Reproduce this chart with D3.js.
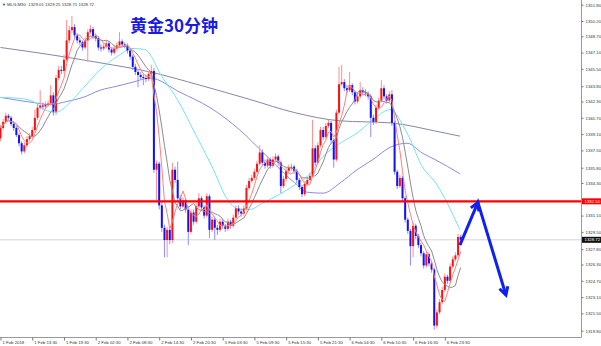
<!DOCTYPE html>
<html><head><meta charset="utf-8">
<script src="https://cdn.jsdelivr.net/npm/d3@7/dist/d3.min.js"></script>
<style>html,body{margin:0;padding:0;background:#fff;overflow:hidden}</style>
</head><body>
<svg id="c" width="601" height="346"></svg>
<script>
// ---------- data (30-minute gold candles) ----------
const firstOpen = 1338.7;
const closes = [1339.7,1340.3,1340.9,1340.7,1340.1,1339.7,1339.0,1338.2,1337.4,1338.0,
1338.6,1338.9,1339.5,1340.7,1341.7,1341.9,1341.8,1342.0,1342.1,1342.9,
1341.3,1344.6,1345.4,1345.3,1346.4,1348.3,1349.3,1349.6,1348.8,1348.3,
1348.1,1347.6,1348.3,1349.1,1349.4,1348.7,1348.5,1347.6,1347.5,1347.7,
1348.0,1347.4,1347.1,1347.5,1347.8,1348.2,1347.9,1347.8,1347.3,1346.7,
1345.7,1345.2,1344.9,1344.7,1344.6,1344.5,1345.0,1345.3,1335.6,1336.2,
1332.1,1329.9,1328.7,1329.7,1328.7,1335.6,1334.6,1332.8,1332.0,1332.6,
1331.7,1329.5,1331.4,1330.5,1332.0,1332.8,1331.9,1331.1,1333.0,1329.7,
1330.7,1329.9,1329.7,1330.5,1330.1,1329.8,1330.5,1330.1,1330.9,1331.8,
1331.5,1331.3,1331.8,1333.8,1334.5,1334.8,1335.4,1336.2,1337.3,1336.3,
1336.0,1336.6,1336.0,1336.6,1336.9,1336.3,1334.0,1334.7,1335.5,1335.8,
1335.9,1335.5,1334.6,1333.9,1333.2,1334.2,1334.6,1335.0,1337.7,1336.3,
1338.0,1339.5,1338.8,1339.9,1340.2,1338.5,1336.6,1341.2,1344.0,1344.2,
1343.6,1343.4,1343.9,1343.2,1342.3,1342.8,1343.4,1343.2,1343.1,1342.8,
1340.7,1340.3,1341.7,1342.4,1343.6,1342.8,1342.4,1343.0,1340.2,1335.4,
1334.0,1334.8,1332.8,1330.7,1329.6,1328.1,1330.1,1329.1,1328.2,1327.4,
1326.2,1327.3,1326.4,1325.8,1320.3,1321.6,1322.6,1323.8,1325.1,1324.7,
1326.1,1326.8,1327.2,1329.0,1328.72];
const highs = [1340.0,1340.6,1341.2,1341.1,1340.9,1340.3,1339.9,1339.2,1338.4,1338.3,
1338.9,1339.2,1339.8,1341.5,1342.0,1343.4,1342.2,1342.3,1342.4,1343.9,
1343.2,1344.9,1345.8,1345.8,1346.9,1350.3,1349.7,1350.7,1349.9,1349.0,
1348.6,1348.3,1348.6,1349.4,1349.8,1349.6,1349.0,1348.7,1347.9,1348.0,
1348.3,1348.2,1347.6,1347.8,1348.1,1349.1,1348.4,1348.1,1348.0,1347.5,
1346.9,1346.0,1345.4,1345.2,1345.0,1344.9,1345.3,1345.9,1345.6,1336.5,
1336.4,1332.4,1330.2,1330.0,1330.0,1336.3,1335.9,1336.4,1333.1,1332.9,
1332.9,1332.0,1331.7,1331.7,1332.3,1333.3,1333.0,1332.1,1333.3,1333.2,
1331.0,1331.0,1330.2,1330.8,1330.8,1330.3,1330.8,1330.7,1331.2,1332.1,
1332.1,1331.8,1332.1,1334.1,1334.8,1335.1,1335.7,1336.5,1338.0,1337.6,
1336.6,1336.9,1336.8,1336.9,1337.2,1337.1,1336.5,1335.0,1335.8,1336.1,
1336.2,1336.1,1335.7,1334.8,1334.1,1334.5,1334.9,1335.3,1340.5,1338.0,
1338.3,1339.8,1339.8,1340.2,1340.5,1340.4,1338.7,1341.5,1345.7,1345.9,
1344.5,1343.9,1345.2,1344.1,1343.4,1343.1,1344.2,1343.7,1343.5,1343.3,
1343.0,1341.0,1342.0,1342.7,1344.4,1343.9,1343.0,1343.3,1343.4,1340.4,
1335.6,1335.1,1335.0,1333.0,1330.9,1329.8,1330.4,1330.3,1329.3,1328.4,
1327.6,1327.6,1327.5,1326.6,1326.0,1321.9,1322.9,1324.1,1325.4,1325.3,
1326.4,1327.1,1327.5,1329.3,1329.25];
const lows = [1338.4,1339.5,1340.1,1340.5,1339.9,1339.4,1338.8,1337.9,1337.1,1337.2,
1337.8,1338.4,1338.7,1339.3,1340.5,1341.5,1341.5,1341.6,1341.8,1341.9,
1340.9,1341.0,1344.4,1345.0,1345.1,1346.2,1348.0,1349.0,1348.5,1348.0,
1347.8,1347.3,1347.4,1346.2,1348.9,1348.4,1348.2,1347.3,1347.2,1347.3,
1347.5,1347.1,1346.8,1346.9,1347.3,1347.6,1347.6,1347.5,1347.0,1346.4,
1345.4,1344.9,1343.7,1344.4,1343.9,1344.2,1344.3,1344.8,1335.3,1332.6,
1331.7,1329.5,1327.0,1327.0,1328.3,1328.4,1334.3,1332.5,1331.7,1331.8,
1331.4,1328.2,1329.3,1330.2,1330.3,1331.8,1331.6,1330.8,1330.9,1328.9,
1329.5,1328.7,1329.2,1329.5,1329.8,1329.5,1329.6,1329.8,1329.9,1330.7,
1331.2,1331.0,1331.1,1331.6,1333.6,1334.3,1334.6,1335.2,1336.0,1336.0,
1335.7,1335.8,1335.7,1335.8,1336.4,1336.0,1333.3,1333.8,1334.5,1335.3,
1335.5,1335.2,1334.3,1333.6,1332.9,1333.0,1334.0,1334.4,1334.8,1336.0,
1336.1,1337.8,1338.5,1338.6,1339.7,1338.2,1335.8,1336.4,1341.0,1343.8,
1343.3,1343.1,1343.2,1342.9,1342.0,1342.1,1342.6,1342.9,1342.8,1342.5,
1338.8,1340.0,1340.1,1341.5,1342.2,1342.5,1342.1,1342.2,1339.9,1335.1,
1333.7,1333.8,1332.5,1330.4,1329.3,1326.2,1327.0,1328.8,1327.9,1327.1,
1325.9,1326.0,1326.1,1325.5,1319.9,1320.0,1321.4,1322.4,1323.6,1324.4,
1324.5,1325.9,1326.6,1327.0,1328.71];
const lastOpen = 1329.01;

const timeLabels = ["1 Feb 2018","1 Feb 13:30","1 Feb 19:30","2 Feb 02:30","2 Feb 08:30",
  "2 Feb 14:30","2 Feb 20:30","5 Feb 03:30","5 Feb 09:30","5 Feb 15:30","5 Feb 21:30",
  "6 Feb 04:30","6 Feb 10:30","6 Feb 16:30","6 Feb 23:30"];
const labelBars = [0,12,24,36,48,60,72,84,96,108,120,132,144,156,168];
const priceTicks = [1351.80,1350.20,1348.70,1347.10,1345.50,1343.80,1342.30,1340.70,1339.10,
  1337.50,1335.80,1334.30,1331.10,1329.50,1327.80,1326.30,1324.70,1323.10,1321.50,1319.80];
const levelPrice = 1332.50;
const bidPrice = 1328.72;
const headerText = "MLG,M30  1329.01 1329.25 1328.71 1328.72";
const titleText = "黄金30分钟";
const fastPeriod = 5, midPeriod = 9;

// slow moving averages, [bar, price]
const cyanMA = [[0,1342.7],[7.4,1342.6],[12.3,1342.3],[16.8,1341.5],[20.6,1341.2],[23.3,1341.5],
 [26.3,1342.2],[31.2,1343.6],[37.6,1345.4],[44,1346.7],[50.1,1347.5],[54.6,1347.4],[61.1,1344.7],
 [67.1,1342.4],[73.5,1339.2],[80,1335.9],[86,1332.6],[90.5,1331.7],[94.3,1331.7],[98.9,1332.3],
 [104.9,1333.1],[111.3,1334.1],[115.9,1334.9],[121.9,1336.9],[128.4,1338.2],[134.8,1339.2],
 [140.8,1340.5],[147.3,1341.5],[153.7,1339.2],[159.7,1335.8],[164.3,1334.4],[173.7,1329.7]];
const purpleMA = [[0,1342.7],[12.3,1342.2],[18.7,1342.0],[25.1,1342.3],[31.2,1342.7],[37.6,1343.4],
 [44,1343.8],[50.1,1344.2],[56.5,1344.6],[67.9,1343.2],[79.2,1341.7],[90.5,1339.5],[100,1337.1],
 [111.3,1334.3],[115.9,1333.4],[121.9,1333.3],[128.4,1334.3],[134.8,1335.6],[140.8,1336.6],
 [147.3,1337.8],[153.7,1338.2],[159.7,1337.2],[164.3,1336.6],[173.7,1335.2]];
const slateMA = [[0,1347.6],[18.7,1346.9],[37.6,1346.1],[56.5,1345.2],[75.4,1343.9],[94.3,1342.5],
 [111.3,1341.2],[128.4,1340.4],[147.3,1340.2],[166.2,1339.3],[173.7,1338.9]];

const arrowPts = [[173.7,1328.2],[180.5,1332.4],[191.1,1323.3]];

// ---------- drawing ----------
const svg = d3.select("#c");
const plotRight = 581, plotBottom = 337;
const x = d3.scaleLinear().domain([0,174]).range([0.5, 460.7]);
const y = d3.scaleLinear().domain([1319.8,1351.8]).range([330.7,4.7]);

const bars = closes.map((c,i)=>({i, o: i===0?firstOpen:(i===closes.length-1?lastOpen:closes[i-1]), c, h:highs[i], l:lows[i]}));

svg.append("defs").append("clipPath").attr("id","clip")
  .append("rect").attr("x",0).attr("y",0).attr("width",plotRight).attr("height",plotBottom);
const g = svg.append("g").attr("clip-path","url(#clip)");

// bid line
g.append("line").attr("x1",0).attr("x2",plotRight).attr("y1",y(bidPrice)).attr("y2",y(bidPrice))
  .attr("stroke","#d4d4d4").attr("stroke-width",1);

// slow MAs
const kline = d3.line().x(d=>x(d[0])).y(d=>y(d[1])).curve(d3.curveMonotoneX);
g.append("path").attr("d",kline(slateMA)).attr("fill","none").attr("stroke","#8686aa").attr("stroke-width",1);
g.append("path").attr("d",kline(purpleMA)).attr("fill","none").attr("stroke","#8c8ce0").attr("stroke-width",1);
g.append("path").attr("d",kline(cyanMA)).attr("fill","none").attr("stroke","#74e4f0").attr("stroke-width",1);

// candles
const cg = g.append("g");
cg.selectAll("line.w").data(bars).join("line").attr("class","w")
  .attr("x1",d=>x(d.i)).attr("x2",d=>x(d.i)).attr("y1",d=>y(d.h)).attr("y2",d=>y(d.l))
  .attr("stroke",d=>d.c>=d.o?"#ff8e8e":"#8e8eff").attr("stroke-width",1);
cg.selectAll("rect.b").data(bars).join("rect").attr("class","b")
  .attr("x",d=>x(d.i)-1).attr("width",2)
  .attr("y",d=>Math.min(y(d.o),y(d.c)))
  .attr("height",d=>Math.max(1,Math.abs(y(d.o)-y(d.c))))
  .attr("fill",d=>d.c>=d.o?"#ff1010":"#1010ff");

// fast MAs from closes
function sma(p){return closes.map((c,i)=>[i, d3.mean(closes.slice(Math.max(0,i-p+1), i+1))]);}
const sline = d3.line().x(d=>x(d[0])).y(d=>y(d[1]));
g.append("path").attr("d",sline(sma(midPeriod))).attr("fill","none").attr("stroke","#8c8c8c").attr("stroke-width",1);
g.append("path").attr("d",sline(sma(fastPeriod))).attr("fill","none").attr("stroke","#ff8080").attr("stroke-width",1);

// level line
g.append("line").attr("x1",0).attr("x2",plotRight).attr("y1",y(levelPrice)).attr("y2",y(levelPrice))
  .attr("stroke","#ff0000").attr("stroke-width",2.2);

// arrows
const ap = arrowPts.map(d=>[x(d[0]),y(d[1])]);
g.append("path").attr("d",d3.line()(ap)).attr("fill","none").attr("stroke","#1020f0")
  .attr("stroke-width",3).attr("stroke-linejoin","miter");
function head(from,to){
  const a=Math.atan2(to[1]-from[1],to[0]-from[0]), L=9, s=0.5;
  const p1=[to[0]-L*Math.cos(a-s),to[1]-L*Math.sin(a-s)], p2=[to[0]-L*Math.cos(a+s),to[1]-L*Math.sin(a+s)];
  g.append("path").attr("d",d3.line()([p1,to,p2])).attr("fill","none").attr("stroke","#1020f0")
   .attr("stroke-width",3).attr("stroke-linejoin","miter");
}
head(ap[0],ap[1]); head(ap[1],ap[2]);

// frame
svg.append("line").attr("x1",plotRight+0.5).attr("x2",plotRight+0.5).attr("y1",0).attr("y2",plotBottom+0.5)
  .attr("stroke","#9a9a9a");
svg.append("line").attr("x1",0).attr("x2",plotRight+0.5).attr("y1",plotBottom+0.5).attr("y2",plotBottom+0.5)
  .attr("stroke","#9a9a9a");

const fnt = "'Liberation Sans', Arial, sans-serif";
// right axis
const ya = svg.append("g").attr("transform",`translate(${plotRight+0.5},0)`)
  .call(d3.axisRight(y).tickValues(priceTicks).tickSize(2).tickPadding(2).tickFormat(d3.format(".2f")));
ya.select(".domain").remove();
ya.selectAll("line").attr("stroke","#777");
ya.selectAll("text").attr("font-size",4.3).attr("font-family",fnt).attr("fill","#333");

// bottom axis
const xa = svg.append("g").attr("transform",`translate(0,${plotBottom+0.5})`)
  .call(d3.axisBottom(x).tickValues(labelBars).tickSize(3).tickFormat((d,i)=>timeLabels[i]));
xa.select(".domain").remove();
xa.selectAll("line").attr("stroke","#777");
xa.selectAll("text").attr("font-size",4.3).attr("font-family",fnt).attr("fill","#333")
  .attr("text-anchor","start").attr("x",1.5).attr("y",3.2);

// price labels
function priceTag(p,fill){
  svg.append("rect").attr("x",plotRight+1).attr("y",y(p)-3).attr("width",19).attr("height",6).attr("fill",fill);
  svg.append("text").attr("x",plotRight+3.5).attr("y",y(p)+1.5).text(d3.format(".2f")(p))
    .attr("font-size",4.3).attr("font-family",fnt).attr("fill","#fff");
}
priceTag(levelPrice,"#ff0000");
priceTag(bidPrice,"#111");

// header
svg.append("text").attr("x",2).attr("y",5.5).text("▼").attr("font-size",4).attr("fill","#333").attr("font-family",fnt);
svg.append("text").attr("x",7).attr("y",5.5).text(headerText).attr("font-size",4.3).attr("fill","#333")
  .attr("font-family",fnt).attr("xml:space","preserve");

// title
svg.append("text").attr("x",130).attr("y",31.5).text(titleText)
  .attr("font-family","'Noto Sans CJK SC', sans-serif").attr("font-weight","bold")
  .attr("font-size",17).attr("fill","#1a1ae6");
</script>
</body></html>
